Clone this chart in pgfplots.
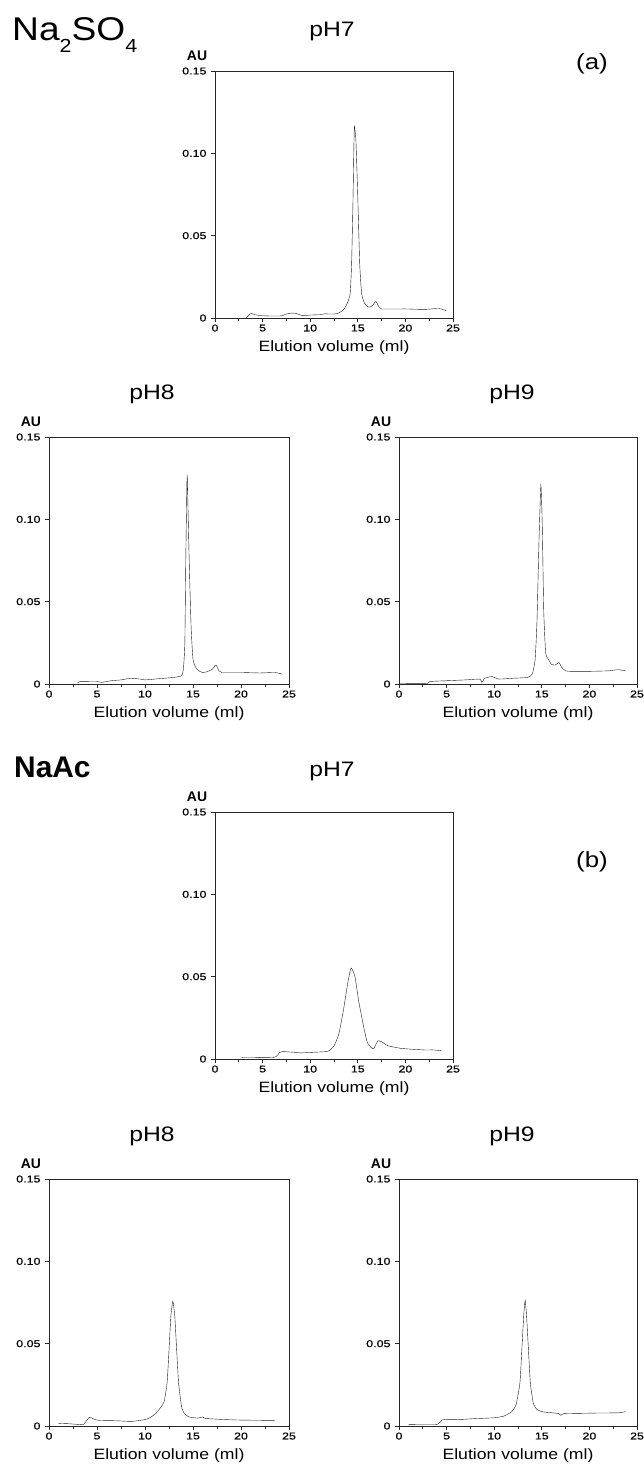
\documentclass[border=0pt]{standalone}
\usepackage{fontspec}
\setmainfont{Liberation Sans}
\newfontfamily\widefont[FakeStretch=1.18]{Liberation Sans}
\newfontfamily\tickfamily[FakeStretch=1.25, FakeBold=0.6]{Liberation Sans}
\newfontfamily\headfont[FakeStretch=1.13]{Liberation Sans}
\usepackage{pgfplots}
\pgfplotsset{compat=1.18}

\newcommand\tickfont{\tickfamily\fontsize{10}{11}\selectfont}
\newcommand\labelfont{\widefont\fontsize{15}{17}\selectfont}
\newcommand\aufont{\bfseries\fontsize{14}{16}\selectfont}
\newcommand\titlefont{\widefont\fontsize{21}{23}\selectfont}

% common look of one chromatogram panel
\pgfplotsset{chrom/.style={
  scale only axis, width=238bp, height=247bp, anchor=north west,
  xmin=0, xmax=25, ymin=0, ymax=0.15, clip=false,
  xtick={0,5,...,25}, xticklabels={0,5,10,15,20,25},
  minor xtick={2.5,7.5,12.5,17.5,22.5},
  ytick={0,0.05,0.10,0.15}, yticklabels={0,0.05,0.10,0.15},
  tick align=outside, xtick pos=lower, ytick pos=left,
  major tick length=4bp, minor tick length=3bp,
  axis line style={black!85, line width=0.8bp},
  every tick/.style={black!85, line width=0.7bp},
  tick label style={font=\tickfont},
  xticklabel style={yshift=1bp},
  yticklabel style={xshift=-1bp},
  /pgf/number format/assume math mode=true,
  cycle list={{black!90, line width=0.85bp}},
  every axis plot/.append style={no markers, smooth, tension=0.3},
}}
\newcommand\panellabels{%
  \node[font=\aufont] at (rel axis cs:0,1) [xshift=-18bp, yshift=15bp] {AU};
  \node[font=\labelfont, anchor=base] at (rel axis cs:0.5,0) [yshift=-33bp] {Elution volume (ml)};
}

\begin{document}
\begin{tikzpicture}
\path[use as bounding box] (0,0) rectangle (644bp,-1466bp);

% ---------- Na2SO4 ----------
\node[anchor=base west, inner sep=0pt, font=\headfont\fontsize{33}{35}\selectfont] at (12bp,-40bp)
  {Na\raisebox{-12bp}{\fontsize{19}{19}\selectfont 2}SO\raisebox{-12bp}{\fontsize{19}{19}\selectfont 4}};
\node[font=\titlefont] at (332bp,-31bp) {pH7};
\node[font=\widefont\fontsize{22}{24}\selectfont] at (592bp,-64bp) {(a)};
\node[font=\titlefont] at (152bp,-394bp) {pH8};
\node[font=\titlefont] at (512bp,-394bp) {pH9};

\begin{axis}[chrom, at={(215bp,-71bp)}]
\addplot coordinates {
(3.3,0.0002) (3.6,0.0020) (3.8,0.0028) (4.2,0.0020) (4.9,0.0014) (6.0,0.0012) (7.0,0.0013)
(7.5,0.0024) (8.0,0.0030) (8.5,0.0028) (9.2,0.0014) (10.0,0.0018) (11.0,0.0020)
(11.5,0.0025) (12.5,0.0024) (13.0,0.0030) (13.5,0.0050) (13.9,0.0090) (14.2,0.0150)
(14.35,0.033) (14.5,0.073) (14.6,0.108) (14.65,0.1164) (14.8,0.108) (15.0,0.073)
(15.2,0.033) (15.4,0.015) (15.7,0.0090) (16.0,0.0070) (16.3,0.0066) (16.6,0.0080)
(16.9,0.0100) (17.2,0.0070) (17.5,0.0055) (20.0,0.0055) (22.0,0.0052) (23.5,0.0058) (24.3,0.0044)};
\panellabels
\end{axis}

\begin{axis}[chrom, width=240bp, at={(49bp,-437bp)}]
\addplot coordinates {
(3.0,0.0006) (3.2,0.0014) (5.0,0.0015) (5.5,0.0010) (6.5,0.0020) (7.5,0.0025)
(8.5,0.0035) (9.5,0.0030) (10.0,0.0025) (11.0,0.0030) (12.0,0.0035) (13.0,0.0040)
(13.8,0.0050) (14.0,0.0090) (14.15,0.025) (14.25,0.076) (14.35,0.116) (14.4,0.1264)
(14.6,0.076) (14.8,0.035) (15.0,0.015) (15.3,0.010) (15.6,0.008) (16.0,0.0070)
(16.5,0.0075) (17.0,0.0090) (17.4,0.0115) (17.7,0.0080) (18.0,0.0070) (20.0,0.0070)
(22.0,0.0067) (23.5,0.0070) (24.3,0.0060)};
\panellabels
\end{axis}

\begin{axis}[chrom, at={(399bp,-437bp)}]
\addplot coordinates {
(0.0,0.0003) (3.0,0.0003) (3.2,0.0015) (5.0,0.0020) (7.0,0.0025) (8.5,0.0030)
(8.7,0.0010) (9.0,0.0035) (9.3,0.0040) (9.8,0.0045) (10.5,0.0030) (12.0,0.0035)
(13.5,0.0040) (14.0,0.0060) (14.3,0.015) (14.5,0.039) (14.7,0.086) (14.9,0.1207)
(15.05,0.096) (15.2,0.045) (15.4,0.019) (15.7,0.015) (16.0,0.012) (16.4,0.0115)
(16.8,0.013) (17.1,0.010) (17.5,0.0080) (18.0,0.0077) (20.0,0.0077) (22.0,0.0080)
(23.0,0.0087) (23.8,0.0080)};
\panellabels
\end{axis}

% ---------- NaAc ----------
\node[anchor=base west, inner sep=0pt, font=\bfseries\fontsize{30}{32}\selectfont] at (14bp,-777bp) {NaAc};
\node[font=\titlefont] at (332bp,-771bp) {pH7};
\node[font=\widefont\fontsize{22}{24}\selectfont] at (592bp,-862bp) {(b)};
\node[font=\titlefont] at (152bp,-1136bp) {pH8};
\node[font=\titlefont] at (512bp,-1136bp) {pH9};

\begin{axis}[chrom, at={(215bp,-812bp)}]
\addplot coordinates {
(2.8,0.0008) (6.2,0.0010) (6.8,0.0040) (7.2,0.0045) (8.5,0.0040) (9.0,0.0037)
(10.0,0.0040) (11.7,0.0045) (12.0,0.0050) (12.5,0.0080) (13.0,0.015) (13.5,0.030)
(14.0,0.048) (14.3,0.0553) (14.7,0.050) (15.1,0.035) (15.6,0.020) (16.0,0.010)
(16.5,0.0065) (16.7,0.0065) (17.1,0.011) (17.5,0.0105) (18.2,0.0080) (19.5,0.0065)
(20.5,0.0060) (22.0,0.0055) (23.0,0.0055) (23.8,0.0050)};
\panellabels
\end{axis}

\begin{axis}[chrom, width=240bp, at={(49bp,-1179bp)}]
\addplot coordinates {
(1.0,0.0016) (2.0,0.0014) (3.0,0.0010) (3.6,0.0010) (4.2,0.0053) (4.6,0.0044)
(5.2,0.0034) (7.0,0.0032) (8.5,0.0028) (9.5,0.0034) (10.3,0.0044) (11.0,0.0070)
(11.6,0.011) (12.0,0.015) (12.3,0.026) (12.5,0.046) (12.7,0.067) (12.9,0.0758)
(13.1,0.067) (13.3,0.046) (13.5,0.026) (13.8,0.012) (14.1,0.0075) (14.6,0.0055)
(15.5,0.0048) (16.0,0.0055) (16.3,0.0046) (18.0,0.0040) (20.0,0.0036) (23.5,0.0034)};
\panellabels
\end{axis}

\begin{axis}[chrom, at={(399bp,-1179bp)}]
\addplot coordinates {
(1.0,0.0010) (4.0,0.0010) (4.5,0.0036) (5.0,0.0040) (6.5,0.0040) (8.0,0.0045)
(10.0,0.0050) (11.0,0.0060) (11.8,0.0085) (12.3,0.013) (12.7,0.026) (12.9,0.046)
(13.1,0.067) (13.25,0.0764) (13.4,0.067) (13.6,0.046) (13.8,0.026) (14.1,0.014)
(14.5,0.010) (15.2,0.0085) (16.0,0.0081) (16.8,0.0075) (17.0,0.0065) (17.3,0.0075)
(19.0,0.0077) (21.0,0.0079) (23.0,0.0080) (23.8,0.0087)};
\panellabels
\end{axis}
\end{tikzpicture}
\end{document}
